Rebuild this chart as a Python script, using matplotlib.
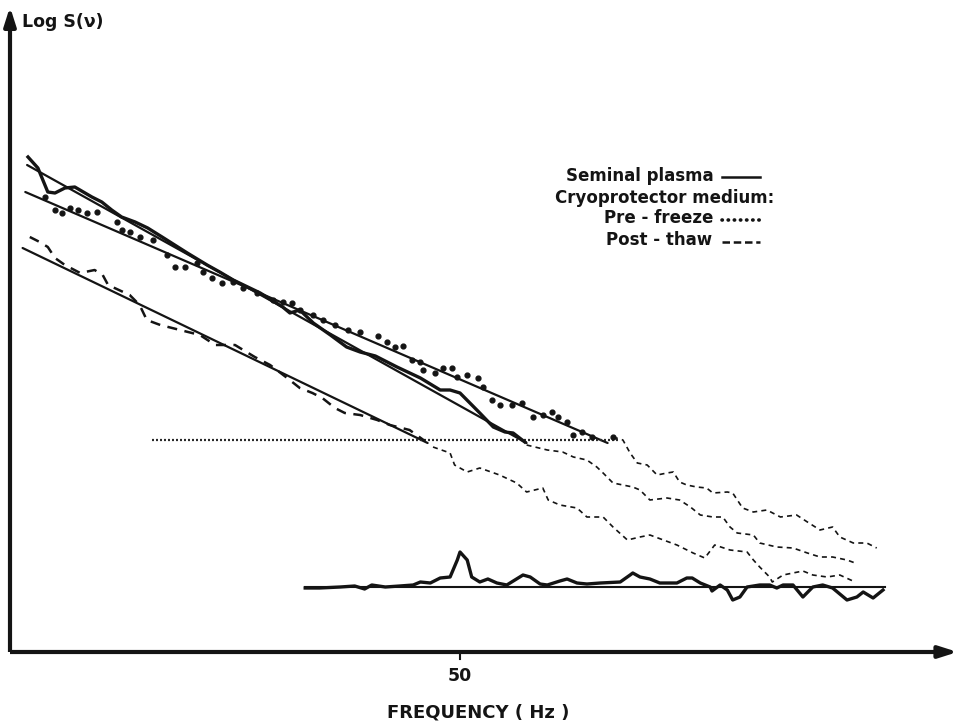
import matplotlib.pyplot as plt

# Spectra, log S(nu) against frequency (Hz), arbitrary log units
seminal_hz = [2.0, 3.1, 4.2, 5.0, 6.1, 7.2, 9.1, 10.2, 11.3, 12.4, 13.9, 15.3, 16.9, 18.3,
              19.7, 21.9, 23.3, 24.8, 27.8, 29.4, 30.3, 31.1, 32.2, 33.7, 35.6, 37.4, 38.9,
              40.6, 43.0, 45.6, 47.8, 48.9, 50.0, 51.1, 52.2, 53.7, 55.0, 55.9, 57.2]
seminal_log = [4.95, 4.84, 4.60, 4.59, 4.64, 4.65, 4.55, 4.50, 4.42, 4.35, 4.30, 4.24, 4.15, 4.07,
               3.99, 3.87, 3.80, 3.72, 3.59, 3.50, 3.45, 3.39, 3.42, 3.29, 3.17, 3.05, 3.00,
               2.96, 2.85, 2.74, 2.62, 2.62, 2.59, 2.49, 2.39, 2.25, 2.20, 2.19, 2.10]

prefreeze_hz = [3.9, 5.0, 5.8, 6.7, 7.6, 8.6, 9.7, 11.9, 12.4, 13.3, 14.4, 15.9, 17.4, 18.3,
                19.4, 20.8, 21.4, 22.4, 23.6, 24.8, 25.9, 27.4, 29.2, 30.3, 31.3, 32.2, 33.7,
                34.8, 36.1, 37.6, 38.9, 40.9, 41.9, 42.8, 43.7, 44.7, 45.6, 45.9, 47.2, 48.1,
                49.1, 49.7, 50.8, 52.0, 52.6, 53.6, 54.4, 55.8, 56.9, 58.1, 59.2, 60.2, 60.9,
                61.9, 62.6, 63.6, 64.7, 67.0]
prefreeze_log = [4.55, 4.42, 4.39, 4.44, 4.42, 4.39, 4.40, 4.30, 4.22, 4.20, 4.15, 4.12, 3.97, 3.85,
                 3.85, 3.89, 3.80, 3.74, 3.69, 3.70, 3.64, 3.59, 3.52, 3.50, 3.49, 3.42, 3.37,
                 3.32, 3.27, 3.22, 3.20, 3.16, 3.10, 3.05, 3.06, 2.92, 2.90, 2.82, 2.79, 2.84,
                 2.84, 2.75, 2.77, 2.74, 2.65, 2.52, 2.47, 2.47, 2.49, 2.35, 2.37, 2.40, 2.35,
                 2.30, 2.17, 2.20, 2.15, 2.15]

postthaw_hz = [2.2, 3.3, 4.2, 5.0, 6.1, 7.8, 9.4, 10.3, 10.9, 13.3, 14.4, 15.2, 16.7, 18.9,
               21.1, 22.8, 25.0, 27.2, 28.9, 30.8, 32.2, 33.6, 34.7, 36.1, 37.2, 38.9, 40.8,
               42.2, 44.4, 46.1]
postthaw_log = [4.15, 4.10, 4.05, 3.94, 3.87, 3.79, 3.82, 3.77, 3.67, 3.57, 3.47, 3.32, 3.27, 3.22,
                3.17, 3.07, 3.07, 2.95, 2.87, 2.74, 2.64, 2.59, 2.54, 2.44, 2.39, 2.37, 2.32,
                2.27, 2.22, 2.11]

# straight-line fits: (start Hz, end Hz), (start log, end log)
fit_seminal = ([1.9, 57.4], [4.87, 2.09])
fit_prefreeze = ([1.7, 66.4], [4.60, 2.09])
fit_postthaw = ([1.4, 46.4], [4.04, 2.09])
cutoff_hz = [15.8, 67.6]
cutoff_log = [2.12, 2.12]

# spectra beyond the cut-off level
tail_post_hz = [47.0, 48.9, 49.4, 50.8, 52.2, 54.4, 56.3, 57.4, 59.2, 59.8, 61.1, 63.0, 64.1,
                65.9, 67.0, 68.6, 70.0, 71.1, 72.6, 74.1, 75.9, 77.2, 78.3, 80.0, 81.9, 82.6,
                83.3, 84.4, 84.7, 85.9, 88.1, 89.2, 90.8, 92.2, 93.9]
tail_post_log = [2.05, 1.99, 1.87, 1.80, 1.84, 1.77, 1.69, 1.60, 1.64, 1.52, 1.47, 1.44, 1.35,
                 1.35, 1.25, 1.12, 1.15, 1.17, 1.12, 1.07, 0.99, 0.94, 1.07, 1.02, 1.00, 0.92,
                 0.85, 0.75, 0.70, 0.77, 0.81, 0.77, 0.75, 0.77, 0.70]
tail_sem_hz = [57.4, 59.7, 61.4, 62.6, 64.1, 65.2, 65.9, 67.0, 69.2, 70.0, 71.1, 73.0, 74.4,
               75.6, 76.7, 78.1, 79.2, 80.0, 80.8, 82.6, 83.3, 85.2, 87.0, 88.6, 90.0, 91.4,
               93.0, 93.9]
tail_sem_log = [2.07, 2.02, 2.00, 1.95, 1.92, 1.85, 1.79, 1.69, 1.65, 1.62, 1.52, 1.54, 1.52,
                1.45, 1.37, 1.35, 1.35, 1.25, 1.19, 1.17, 1.09, 1.05, 1.04, 0.99, 0.95, 0.95,
                0.92, 0.89]
tail_pre_hz = [67.0, 68.1, 68.9, 69.7, 70.8, 71.9, 73.0, 73.7, 74.4, 75.2, 76.3, 77.4, 78.1,
               79.7, 80.3, 81.4, 82.6, 84.1, 85.6, 87.4, 88.6, 90.0, 91.4, 92.2, 93.7, 95.2,
               96.3]
tail_pre_log = [2.15, 2.12, 1.99, 1.89, 1.87, 1.77, 1.79, 1.80, 1.70, 1.67, 1.65, 1.64, 1.59,
                1.60, 1.59, 1.44, 1.40, 1.42, 1.35, 1.37, 1.30, 1.22, 1.25, 1.15, 1.09, 1.09,
                1.04]

# background noise spectrum with the 50 Hz mains peak
noise_hz = [32.8, 34.4, 36.7, 38.3, 39.4, 40.2, 41.7, 43.3, 44.8, 45.6, 46.7, 47.8, 48.9,
            49.7, 50.0, 50.8, 51.3, 52.2, 53.1, 54.1, 55.2, 56.1, 57.0, 57.8, 58.9, 59.7,
            61.1, 61.9, 63.0, 64.1, 65.6, 67.8, 68.9, 69.2, 70.0, 71.1, 72.2, 74.1, 75.2,
            75.8, 76.7, 77.8, 78.0, 78.9, 79.7, 80.3, 81.1, 81.9, 83.3, 84.4, 85.2, 85.9,
            87.0, 88.1, 89.2, 90.3, 91.4, 93.0, 94.1, 94.8, 95.9, 97.0]
noise_log = [0.64, 0.64, 0.65, 0.66, 0.63, 0.67, 0.65, 0.66, 0.67, 0.70, 0.69, 0.74, 0.75,
             0.92, 1.00, 0.92, 0.75, 0.70, 0.73, 0.69, 0.67, 0.72, 0.77, 0.75, 0.68, 0.67,
             0.71, 0.73, 0.69, 0.68, 0.69, 0.70, 0.77, 0.79, 0.75, 0.73, 0.69, 0.69, 0.74,
             0.74, 0.69, 0.65, 0.61, 0.67, 0.62, 0.52, 0.55, 0.65, 0.67, 0.67, 0.64, 0.67,
             0.67, 0.55, 0.65, 0.67, 0.64, 0.52, 0.55, 0.60, 0.54, 0.62]
noise_level_hz = [32.8, 97.2]
noise_level_log = [0.65, 0.65]

INK = '#141414'

fig = plt.figure(figsize=(9.65, 7.22), dpi=100)
ax = fig.add_axes([0, 0, 1, 1])
ax.set_xlim(-10 / 9, 955 / 9)
ax.set_ylim(-0.70, 6.52)
ax.axis('off')

# axes with arrow heads
ax.plot([0, 0], [0, 6.35], color=INK, lw=3, solid_capstyle='butt')
ax.plot([0, 104], [0, 0], color=INK, lw=3, solid_capstyle='butt')
ax.annotate('', xy=(0, 6.48), xytext=(0, 6.25),
            arrowprops=dict(arrowstyle='-|>,head_length=1.1,head_width=0.35', color=INK, lw=3))
ax.annotate('', xy=(105.6, 0), xytext=(103.0, 0),
            arrowprops=dict(arrowstyle='-|>,head_length=1.1,head_width=0.35', color=INK, lw=3))
ax.plot([50, 50], [0, -0.07], color=INK, lw=1.5)

# fitted regressions and cut-off level
for fx, fy in (fit_seminal, fit_prefreeze, fit_postthaw):
    ax.plot(fx, fy, color=INK, lw=1.6, solid_capstyle='round')
ax.plot(cutoff_hz, cutoff_log, color='#2a2a2a', lw=1.6, linestyle=(0, (0.9, 0.9)))

# measured spectra
ax.plot(seminal_hz, seminal_log, color=INK, lw=2.4, solid_joinstyle='round')
ax.scatter(prefreeze_hz, prefreeze_log, s=12, color=INK, zorder=3)
ax.plot(postthaw_hz, postthaw_log, color=INK, lw=1.8, linestyle=(0, (4, 3)))

for tx, ty in ((tail_post_hz, tail_post_log), (tail_sem_hz, tail_sem_log),
               (tail_pre_hz, tail_pre_log)):
    ax.plot(tx, ty, color=INK, lw=1.2, linestyle=(0, (3, 2.5)))

ax.plot(noise_level_hz, noise_level_log, color=INK, lw=1.5)
ax.plot(noise_hz, noise_log, color=INK, lw=2.4, solid_joinstyle='round')

# labels
ax.text(1.3, 6.30, 'Log S(\u03bd)', fontsize=12.5, fontweight='bold', color=INK,
        ha='left', va='center', family='DejaVu Sans')
ax.text(50, -0.24, '50', fontsize=12.5, fontweight='bold', color=INK, ha='center', va='center')
ax.text(52.0, -0.60, 'FREQUENCY ( Hz )', fontsize=13, fontweight='bold', color=INK,
        ha='center', va='center')

# legend
lx0, lx1 = 79.1, 83.3
ax.text(78.2, 4.76, 'Seminal plasma', fontsize=12, fontweight='bold', color=INK, ha='right', va='center')
ax.plot([lx0, lx1], [4.75, 4.75], color=INK, lw=1.8)
ax.text(60.6, 4.54, 'Cryoprotector medium:', fontsize=12, fontweight='bold', color=INK,
        ha='left', va='center')
ax.text(78.2, 4.34, 'Pre - freeze', fontsize=12, fontweight='bold', color=INK, ha='right', va='center')
ax.plot([lx0, lx1], [4.32, 4.32], color=INK, lw=2.6, linestyle=(0, (0.1, 1.6)),
        dash_capstyle='round')
ax.text(78.0, 4.12, 'Post - thaw', fontsize=12, fontweight='bold', color=INK, ha='right', va='center')
ax.plot([lx0, lx1], [4.10, 4.10], color=INK, lw=1.8, linestyle=(0, (3, 1.5)))

fig.savefig('out.png', dpi=100, facecolor='white')
